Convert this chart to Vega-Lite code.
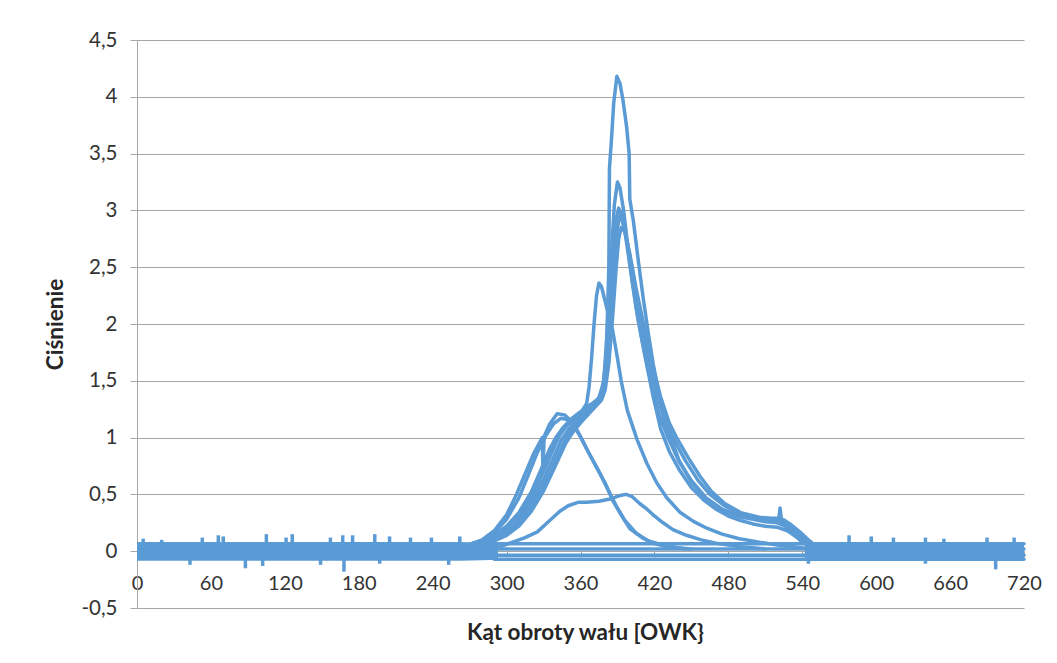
{
  "$schema": "https://vega.github.io/schema/vega-lite/v6.json",
  "autosize": "none",
  "width": 887,
  "height": 568,
  "padding": {"left": 137, "top": 40, "right": 33, "bottom": 55},
  "background": "white",
  "config": {"view": {"stroke": null}, "font": "Lato"},
  "datasets": {
    "band": [
      {"seg": "a", "x": 0, "y": -0.085, "y2": 0.08},
      {"seg": "a", "x": 262, "y": -0.085, "y2": 0.08},
      {"seg": "a", "x": 280, "y": -0.08, "y2": 0.075},
      {"seg": "a", "x": 293, "y": -0.075, "y2": 0.07},
      {"seg": "b", "x": 542, "y": -0.08, "y2": 0.075},
      {"seg": "b", "x": 552, "y": -0.085, "y2": 0.08},
      {"seg": "b", "x": 720, "y": -0.085, "y2": 0.08}
    ],
    "spikes": [
      {"x": 5, "y": 0.0, "y2": 0.11},
      {"x": 20, "y": 0.0, "y2": 0.1},
      {"x": 43, "y": -0.12, "y2": 0.0},
      {"x": 53, "y": 0.0, "y2": 0.12},
      {"x": 66, "y": 0.0, "y2": 0.14},
      {"x": 70, "y": 0.0, "y2": 0.13},
      {"x": 88, "y": -0.15, "y2": 0.0},
      {"x": 102, "y": -0.13, "y2": 0.0},
      {"x": 105, "y": 0.0, "y2": 0.15},
      {"x": 121, "y": 0.0, "y2": 0.12},
      {"x": 126, "y": 0.0, "y2": 0.15},
      {"x": 149, "y": -0.12, "y2": 0.0},
      {"x": 157, "y": 0.0, "y2": 0.12},
      {"x": 167, "y": 0.0, "y2": 0.14},
      {"x": 168, "y": -0.18, "y2": 0.0},
      {"x": 175, "y": 0.0, "y2": 0.14},
      {"x": 193, "y": 0.0, "y2": 0.15},
      {"x": 197, "y": -0.11, "y2": 0.0},
      {"x": 205, "y": 0.0, "y2": 0.13},
      {"x": 222, "y": 0.0, "y2": 0.12},
      {"x": 239, "y": 0.0, "y2": 0.12},
      {"x": 253, "y": -0.12, "y2": 0.0},
      {"x": 262, "y": 0.0, "y2": 0.13},
      {"x": 280, "y": 0.0, "y2": 0.1},
      {"x": 545, "y": -0.11, "y2": 0.0},
      {"x": 578, "y": 0.0, "y2": 0.14},
      {"x": 596, "y": 0.0, "y2": 0.13},
      {"x": 614, "y": 0.0, "y2": 0.12},
      {"x": 640, "y": -0.11, "y2": 0.12},
      {"x": 655, "y": 0.0, "y2": 0.11},
      {"x": 690, "y": 0.0, "y2": 0.12},
      {"x": 697, "y": -0.16, "y2": 0.0},
      {"x": 712, "y": 0.0, "y2": 0.12}
    ],
    "curves": [
      {"t": "A", "x": 240, "y": 0.0}, {"t": "A", "x": 260, "y": 0.03}, {"t": "A", "x": 280, "y": 0.08}, {"t": "A", "x": 290, "y": 0.12}, {"t": "A", "x": 300, "y": 0.19}, {"t": "A", "x": 310, "y": 0.3}, {"t": "A", "x": 320, "y": 0.47}, {"t": "A", "x": 330, "y": 0.7}, {"t": "A", "x": 336, "y": 0.85}, {"t": "A", "x": 342, "y": 1.0}, {"t": "A", "x": 348, "y": 1.1}, {"t": "A", "x": 355, "y": 1.18}, {"t": "A", "x": 362, "y": 1.24}, {"t": "A", "x": 368, "y": 1.29}, {"t": "A", "x": 374, "y": 1.33}, {"t": "A", "x": 378, "y": 1.42}, {"t": "A", "x": 381, "y": 1.75}, {"t": "A", "x": 383, "y": 2.5}, {"t": "A", "x": 383.5, "y": 3.37}, {"t": "A", "x": 385, "y": 3.6}, {"t": "A", "x": 387, "y": 3.95}, {"t": "A", "x": 389.5, "y": 4.18}, {"t": "A", "x": 392, "y": 4.12}, {"t": "A", "x": 394.5, "y": 3.97}, {"t": "A", "x": 397.5, "y": 3.73}, {"t": "A", "x": 399.5, "y": 3.5}, {"t": "A", "x": 400, "y": 3.1}, {"t": "A", "x": 403, "y": 2.9}, {"t": "A", "x": 407, "y": 2.55}, {"t": "A", "x": 411, "y": 2.22}, {"t": "A", "x": 415, "y": 1.92}, {"t": "A", "x": 419, "y": 1.65}, {"t": "A", "x": 424, "y": 1.36}, {"t": "A", "x": 430, "y": 1.1}, {"t": "A", "x": 440, "y": 0.8}, {"t": "A", "x": 450, "y": 0.61}, {"t": "A", "x": 460, "y": 0.48}, {"t": "A", "x": 470, "y": 0.39}, {"t": "A", "x": 480, "y": 0.34}, {"t": "A", "x": 490, "y": 0.3}, {"t": "A", "x": 500, "y": 0.28}, {"t": "A", "x": 510, "y": 0.26}, {"t": "A", "x": 520, "y": 0.25}, {"t": "A", "x": 526, "y": 0.22}, {"t": "A", "x": 532, "y": 0.16}, {"t": "A", "x": 540, "y": 0.08}, {"t": "A", "x": 548, "y": 0.03}, {"t": "A", "x": 556, "y": 0.0},

      {"t": "B", "x": 240, "y": 0.0}, {"t": "B", "x": 260, "y": 0.03}, {"t": "B", "x": 280, "y": 0.09}, {"t": "B", "x": 290, "y": 0.14}, {"t": "B", "x": 300, "y": 0.22}, {"t": "B", "x": 310, "y": 0.34}, {"t": "B", "x": 320, "y": 0.52}, {"t": "B", "x": 330, "y": 0.77}, {"t": "B", "x": 335, "y": 0.9}, {"t": "B", "x": 340, "y": 1.0}, {"t": "B", "x": 346, "y": 1.09}, {"t": "B", "x": 352, "y": 1.16}, {"t": "B", "x": 358, "y": 1.21}, {"t": "B", "x": 364, "y": 1.26}, {"t": "B", "x": 370, "y": 1.3}, {"t": "B", "x": 375, "y": 1.35}, {"t": "B", "x": 379, "y": 1.5}, {"t": "B", "x": 382, "y": 2.0}, {"t": "B", "x": 385, "y": 2.6}, {"t": "B", "x": 387.5, "y": 3.05}, {"t": "B", "x": 390, "y": 3.25}, {"t": "B", "x": 392, "y": 3.2}, {"t": "B", "x": 395, "y": 3.0}, {"t": "B", "x": 398, "y": 2.72}, {"t": "B", "x": 402, "y": 2.38}, {"t": "B", "x": 407, "y": 2.02}, {"t": "B", "x": 413, "y": 1.68}, {"t": "B", "x": 419, "y": 1.36}, {"t": "B", "x": 425, "y": 1.08}, {"t": "B", "x": 432, "y": 0.88}, {"t": "B", "x": 440, "y": 0.72}, {"t": "B", "x": 450, "y": 0.56}, {"t": "B", "x": 460, "y": 0.45}, {"t": "B", "x": 470, "y": 0.37}, {"t": "B", "x": 480, "y": 0.31}, {"t": "B", "x": 490, "y": 0.27}, {"t": "B", "x": 500, "y": 0.24}, {"t": "B", "x": 510, "y": 0.22}, {"t": "B", "x": 520, "y": 0.21}, {"t": "B", "x": 528, "y": 0.18}, {"t": "B", "x": 536, "y": 0.12}, {"t": "B", "x": 545, "y": 0.05}, {"t": "B", "x": 553, "y": 0.01},

      {"t": "C", "x": 240, "y": 0.0}, {"t": "C", "x": 260, "y": 0.02}, {"t": "C", "x": 280, "y": 0.07}, {"t": "C", "x": 290, "y": 0.11}, {"t": "C", "x": 300, "y": 0.17}, {"t": "C", "x": 310, "y": 0.27}, {"t": "C", "x": 320, "y": 0.42}, {"t": "C", "x": 330, "y": 0.63}, {"t": "C", "x": 338, "y": 0.82}, {"t": "C", "x": 344, "y": 0.97}, {"t": "C", "x": 350, "y": 1.07}, {"t": "C", "x": 356, "y": 1.15}, {"t": "C", "x": 362, "y": 1.21}, {"t": "C", "x": 368, "y": 1.26}, {"t": "C", "x": 374, "y": 1.31}, {"t": "C", "x": 378, "y": 1.38}, {"t": "C", "x": 381, "y": 1.6}, {"t": "C", "x": 384, "y": 2.15}, {"t": "C", "x": 387, "y": 2.65}, {"t": "C", "x": 389, "y": 2.92}, {"t": "C", "x": 391, "y": 3.02}, {"t": "C", "x": 393, "y": 2.97}, {"t": "C", "x": 396, "y": 2.82}, {"t": "C", "x": 400, "y": 2.52}, {"t": "C", "x": 405, "y": 2.15}, {"t": "C", "x": 411, "y": 1.8}, {"t": "C", "x": 417, "y": 1.5}, {"t": "C", "x": 424, "y": 1.2}, {"t": "C", "x": 431, "y": 1.0}, {"t": "C", "x": 440, "y": 0.79}, {"t": "C", "x": 450, "y": 0.62}, {"t": "C", "x": 462, "y": 0.47}, {"t": "C", "x": 475, "y": 0.37}, {"t": "C", "x": 490, "y": 0.31}, {"t": "C", "x": 505, "y": 0.28}, {"t": "C", "x": 518, "y": 0.26}, {"t": "C", "x": 526, "y": 0.23}, {"t": "C", "x": 534, "y": 0.17}, {"t": "C", "x": 542, "y": 0.09}, {"t": "C", "x": 550, "y": 0.03},

      {"t": "D", "x": 240, "y": 0.0}, {"t": "D", "x": 260, "y": 0.02}, {"t": "D", "x": 280, "y": 0.06}, {"t": "D", "x": 290, "y": 0.1}, {"t": "D", "x": 300, "y": 0.15}, {"t": "D", "x": 310, "y": 0.24}, {"t": "D", "x": 320, "y": 0.38}, {"t": "D", "x": 330, "y": 0.57}, {"t": "D", "x": 340, "y": 0.8}, {"t": "D", "x": 347, "y": 0.97}, {"t": "D", "x": 352, "y": 1.06}, {"t": "D", "x": 358, "y": 1.14}, {"t": "D", "x": 364, "y": 1.2}, {"t": "D", "x": 370, "y": 1.26}, {"t": "D", "x": 376, "y": 1.32}, {"t": "D", "x": 379, "y": 1.4}, {"t": "D", "x": 382, "y": 1.65}, {"t": "D", "x": 385, "y": 2.1}, {"t": "D", "x": 388, "y": 2.6}, {"t": "D", "x": 390, "y": 2.85}, {"t": "D", "x": 392, "y": 2.95}, {"t": "D", "x": 394, "y": 2.91}, {"t": "D", "x": 398, "y": 2.72}, {"t": "D", "x": 403, "y": 2.42}, {"t": "D", "x": 409, "y": 2.06}, {"t": "D", "x": 415, "y": 1.72}, {"t": "D", "x": 422, "y": 1.39}, {"t": "D", "x": 428, "y": 1.16}, {"t": "D", "x": 435, "y": 1.0}, {"t": "D", "x": 445, "y": 0.8}, {"t": "D", "x": 455, "y": 0.63}, {"t": "D", "x": 465, "y": 0.5}, {"t": "D", "x": 477, "y": 0.4}, {"t": "D", "x": 490, "y": 0.33}, {"t": "D", "x": 505, "y": 0.29}, {"t": "D", "x": 515, "y": 0.28}, {"t": "D", "x": 522, "y": 0.27}, {"t": "D", "x": 530, "y": 0.22}, {"t": "D", "x": 538, "y": 0.15}, {"t": "D", "x": 546, "y": 0.07}, {"t": "D", "x": 554, "y": 0.02},

      {"t": "E", "x": 240, "y": 0.0}, {"t": "E", "x": 260, "y": 0.02}, {"t": "E", "x": 280, "y": 0.06}, {"t": "E", "x": 290, "y": 0.09}, {"t": "E", "x": 300, "y": 0.14}, {"t": "E", "x": 310, "y": 0.22}, {"t": "E", "x": 320, "y": 0.35}, {"t": "E", "x": 330, "y": 0.53}, {"t": "E", "x": 340, "y": 0.76}, {"t": "E", "x": 348, "y": 0.95}, {"t": "E", "x": 354, "y": 1.05}, {"t": "E", "x": 360, "y": 1.13}, {"t": "E", "x": 366, "y": 1.2}, {"t": "E", "x": 372, "y": 1.27}, {"t": "E", "x": 377, "y": 1.33}, {"t": "E", "x": 380, "y": 1.42}, {"t": "E", "x": 383, "y": 1.65}, {"t": "E", "x": 386, "y": 2.05}, {"t": "E", "x": 389, "y": 2.5}, {"t": "E", "x": 391, "y": 2.75}, {"t": "E", "x": 393, "y": 2.85}, {"t": "E", "x": 396, "y": 2.81}, {"t": "E", "x": 400, "y": 2.62}, {"t": "E", "x": 405, "y": 2.32}, {"t": "E", "x": 412, "y": 1.96}, {"t": "E", "x": 418, "y": 1.66}, {"t": "E", "x": 425, "y": 1.36}, {"t": "E", "x": 432, "y": 1.13}, {"t": "E", "x": 438, "y": 1.0}, {"t": "E", "x": 447, "y": 0.83}, {"t": "E", "x": 457, "y": 0.66}, {"t": "E", "x": 466, "y": 0.53}, {"t": "E", "x": 477, "y": 0.42}, {"t": "E", "x": 490, "y": 0.34}, {"t": "E", "x": 505, "y": 0.3}, {"t": "E", "x": 515, "y": 0.29}, {"t": "E", "x": 521, "y": 0.29}, {"t": "E", "x": 522, "y": 0.38}, {"t": "E", "x": 523, "y": 0.29}, {"t": "E", "x": 530, "y": 0.24}, {"t": "E", "x": 538, "y": 0.17}, {"t": "E", "x": 546, "y": 0.09}, {"t": "E", "x": 553, "y": 0.03}, {"t": "E", "x": 560, "y": 0.0},

      {"t": "H", "x": 240, "y": 0.0}, {"t": "H", "x": 260, "y": 0.03}, {"t": "H", "x": 280, "y": 0.08}, {"t": "H", "x": 290, "y": 0.12}, {"t": "H", "x": 300, "y": 0.2}, {"t": "H", "x": 310, "y": 0.31}, {"t": "H", "x": 320, "y": 0.48}, {"t": "H", "x": 330, "y": 0.72}, {"t": "H", "x": 338, "y": 0.92}, {"t": "H", "x": 344, "y": 1.04}, {"t": "H", "x": 350, "y": 1.12}, {"t": "H", "x": 356, "y": 1.18}, {"t": "H", "x": 361, "y": 1.23}, {"t": "H", "x": 365, "y": 1.3}, {"t": "H", "x": 367, "y": 1.45}, {"t": "H", "x": 369, "y": 1.7}, {"t": "H", "x": 371, "y": 2.0}, {"t": "H", "x": 373, "y": 2.25}, {"t": "H", "x": 375, "y": 2.36}, {"t": "H", "x": 377, "y": 2.33}, {"t": "H", "x": 380, "y": 2.2}, {"t": "H", "x": 383, "y": 2.07}, {"t": "H", "x": 386, "y": 1.95}, {"t": "H", "x": 390, "y": 1.7}, {"t": "H", "x": 393, "y": 1.5}, {"t": "H", "x": 398, "y": 1.24}, {"t": "H", "x": 406, "y": 0.98}, {"t": "H", "x": 414, "y": 0.77}, {"t": "H", "x": 422, "y": 0.6}, {"t": "H", "x": 430, "y": 0.47}, {"t": "H", "x": 441, "y": 0.34}, {"t": "H", "x": 452, "y": 0.26}, {"t": "H", "x": 463, "y": 0.2}, {"t": "H", "x": 475, "y": 0.15}, {"t": "H", "x": 489, "y": 0.11}, {"t": "H", "x": 505, "y": 0.08}, {"t": "H", "x": 522, "y": 0.05}, {"t": "H", "x": 540, "y": 0.03}, {"t": "H", "x": 560, "y": 0.02},

      {"t": "F", "x": 240, "y": 0.0}, {"t": "F", "x": 250, "y": 0.02}, {"t": "F", "x": 270, "y": 0.06}, {"t": "F", "x": 280, "y": 0.1}, {"t": "F", "x": 290, "y": 0.18}, {"t": "F", "x": 300, "y": 0.32}, {"t": "F", "x": 308, "y": 0.5}, {"t": "F", "x": 315, "y": 0.68}, {"t": "F", "x": 322, "y": 0.86}, {"t": "F", "x": 329, "y": 1.0}, {"t": "F", "x": 329.5, "y": 0.72}, {"t": "F", "x": 330.5, "y": 1.01}, {"t": "F", "x": 335, "y": 1.12}, {"t": "F", "x": 341, "y": 1.21}, {"t": "F", "x": 347, "y": 1.2}, {"t": "F", "x": 352, "y": 1.15}, {"t": "F", "x": 357, "y": 1.07}, {"t": "F", "x": 365, "y": 0.9}, {"t": "F", "x": 373, "y": 0.74}, {"t": "F", "x": 380, "y": 0.6}, {"t": "F", "x": 386, "y": 0.45}, {"t": "F", "x": 393, "y": 0.32}, {"t": "F", "x": 400, "y": 0.2}, {"t": "F", "x": 410, "y": 0.12}, {"t": "F", "x": 419, "y": 0.07}, {"t": "F", "x": 430, "y": 0.04}, {"t": "F", "x": 450, "y": 0.02},

      {"t": "F2", "x": 240, "y": 0.0}, {"t": "F2", "x": 260, "y": 0.03}, {"t": "F2", "x": 280, "y": 0.09}, {"t": "F2", "x": 290, "y": 0.16}, {"t": "F2", "x": 300, "y": 0.28}, {"t": "F2", "x": 310, "y": 0.47}, {"t": "F2", "x": 318, "y": 0.68}, {"t": "F2", "x": 325, "y": 0.87}, {"t": "F2", "x": 332, "y": 1.02}, {"t": "F2", "x": 338, "y": 1.12}, {"t": "F2", "x": 344, "y": 1.17}, {"t": "F2", "x": 349, "y": 1.16}, {"t": "F2", "x": 354, "y": 1.11}, {"t": "F2", "x": 360, "y": 1.01}, {"t": "F2", "x": 367, "y": 0.86}, {"t": "F2", "x": 375, "y": 0.7}, {"t": "F2", "x": 382, "y": 0.55}, {"t": "F2", "x": 389, "y": 0.4}, {"t": "F2", "x": 396, "y": 0.27}, {"t": "F2", "x": 405, "y": 0.16}, {"t": "F2", "x": 415, "y": 0.09}, {"t": "F2", "x": 428, "y": 0.05}, {"t": "F2", "x": 445, "y": 0.02},

      {"t": "G", "x": 270, "y": 0.0}, {"t": "G", "x": 285, "y": 0.02}, {"t": "G", "x": 295, "y": 0.04}, {"t": "G", "x": 305, "y": 0.08}, {"t": "G", "x": 315, "y": 0.12}, {"t": "G", "x": 325, "y": 0.17}, {"t": "G", "x": 335, "y": 0.27}, {"t": "G", "x": 343, "y": 0.35}, {"t": "G", "x": 350, "y": 0.4}, {"t": "G", "x": 358, "y": 0.43}, {"t": "G", "x": 365, "y": 0.43}, {"t": "G", "x": 375, "y": 0.44}, {"t": "G", "x": 384, "y": 0.46}, {"t": "G", "x": 392, "y": 0.49}, {"t": "G", "x": 397, "y": 0.5}, {"t": "G", "x": 402, "y": 0.48}, {"t": "G", "x": 408, "y": 0.42}, {"t": "G", "x": 414, "y": 0.37}, {"t": "G", "x": 420, "y": 0.31}, {"t": "G", "x": 427, "y": 0.25}, {"t": "G", "x": 435, "y": 0.19}, {"t": "G", "x": 446, "y": 0.14}, {"t": "G", "x": 458, "y": 0.1}, {"t": "G", "x": 470, "y": 0.07}, {"t": "G", "x": 490, "y": 0.04}, {"t": "G", "x": 510, "y": 0.02},

      {"t": "L1", "x": 290, "y": 0.065}, {"t": "L1", "x": 720, "y": 0.065},
      {"t": "L2", "x": 290, "y": 0.02}, {"t": "L2", "x": 720, "y": 0.02},
      {"t": "L3", "x": 290, "y": -0.035}, {"t": "L3", "x": 720, "y": -0.035},
      {"t": "L4", "x": 290, "y": -0.07}, {"t": "L4", "x": 720, "y": -0.07}
    ]
  },
  "encoding": {
    "x": {
      "field": "x", "type": "quantitative",
      "scale": {"domain": [0, 720], "nice": false, "zero": false},
      "axis": {
        "title": "Kąt obroty wału [OWK}",
        "orient": "bottom", "offset": -57, "grid": false,
        "values": [0, 60, 120, 180, 240, 300, 360, 420, 480, 540, 600, 660, 720],
        "domainColor": "#a6a6a6", "tickColor": "#a6a6a6", "tickSize": 6,
        "labelFont": "Lato", "labelFontSize": 20, "labelColor": "#333333", "labelPadding": 16,
        "labelOverlap": false, "labelFlush": false, "labelBound": false,
        "titleFont": "Lato", "titleFontSize": 22.5, "titleFontWeight": "bold", "titleColor": "#262626",
        "titleX": 448, "titleY": 81, "titleAlign": "center", "titleBaseline": "middle"
      }
    },
    "y": {
      "field": "y", "type": "quantitative",
      "scale": {"domain": [-0.5, 4.5], "nice": false, "zero": false},
      "axis": {
        "title": "Ciśnienie",
        "values": [-0.5, 0, 0.5, 1, 1.5, 2, 2.5, 3, 3.5, 4, 4.5],
        "labelExpr": "replace(toString(datum.value), '.', ',')",
        "grid": true, "gridColor": "#a6a6a6", "gridWidth": 1,
        "domainColor": "#a6a6a6", "tickColor": "#a6a6a6", "tickSize": 7,
        "labelFont": "Lato", "labelFontSize": 20.5, "labelColor": "#333333", "labelPadding": 13,
        "titleFont": "Lato", "titleFontSize": 22.5, "titleFontWeight": "bold", "titleColor": "#262626",
        "titleX": -82, "titleY": 284, "titleAngle": 270, "titleAlign": "center", "titleBaseline": "middle"
      }
    }
  },
  "layer": [
    {
      "data": {"name": "band"},
      "mark": {"type": "area", "color": "#5B9BD5", "opacity": 1},
      "encoding": {"y2": {"field": "y2"}, "detail": {"field": "seg"}}
    },
    {
      "data": {"name": "spikes"},
      "mark": {"type": "rule", "color": "#5B9BD5", "strokeWidth": 3.5},
      "encoding": {"y2": {"field": "y2"}}
    },
    {
      "data": {"name": "curves"},
      "mark": {"type": "line", "color": "#5B9BD5", "strokeWidth": 3.5, "strokeJoin": "round", "strokeCap": "round"},
      "encoding": {"detail": {"field": "t"}}
    }
  ]
}
